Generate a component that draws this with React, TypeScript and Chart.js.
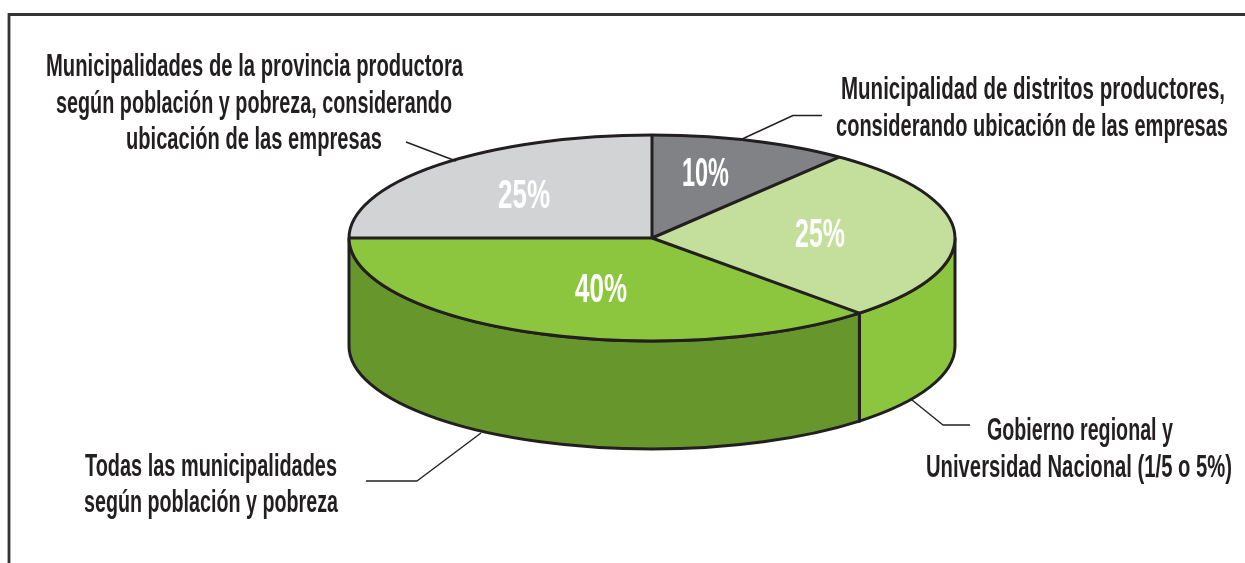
import React, { useEffect, useRef } from "react";
import { Chart, registerables } from "chart.js";

Chart.register(...registerables);

// Slice order runs clockwise from 12 o'clock.
const categories = [
  "Municipalidad de distritos productores, considerando ubicación de las empresas",
  "Gobierno regional y Universidad Nacional (1/5 o 5%)",
  "Todas las municipalidades según población y pobreza",
  "Municipalidades de la provincia productora según población y pobreza, considerando ubicación de las empresas",
];
// Share of the circle as drawn in the picture.
const drawnShares = [10.6, 27.4, 37.0, 25];
// Value printed on each slice.
const printedLabels = ["10%", "25%", "40%", "25%"];
const topColors = ["#808285", "#c4df9b", "#8cc63e", "#d1d3d4"];
const wallColors = ["#5f6062", "#8cc63e", "#66962c", "#a7a9ac"];

const INK = "#231f20";
const CX = 652;
const CY = 238;
const RX = 303;
const RY = 103;
const DEPTH = 108;
const FONT = '"Liberation Sans Narrow", "Liberation Sans", sans-serif';

const captionLayout = [
  { text: "Municipalidades de la provincia productora", l: 46, r: 463, y: 76 },
  { text: "según población y pobreza, considerando", l: 56, r: 452, y: 113 },
  { text: "ubicación de las empresas", l: 126, r: 382, y: 149 },
  { text: "Municipalidad de distritos productores,", l: 841, r: 1225, y: 99 },
  { text: "considerando ubicación de las empresas", l: 836, r: 1228, y: 136 },
  { text: "Gobierno regional y", l: 987, r: 1173, y: 440 },
  { text: "Universidad Nacional (1/5 o 5%)", l: 926, r: 1232, y: 477 },
  { text: "Todas las municipalidades", l: 85, r: 337, y: 476 },
  { text: "según población y pobreza", l: 84, r: 338, y: 512 },
];
const percentLayout = [
  { l: 682, r: 729, y: 186 },
  { l: 795, r: 845, y: 247 },
  { l: 575, r: 627, y: 302 },
  { l: 498, r: 550, y: 208 },
];
const leaderLines = [
  [[406, 142], [456, 161]],
  [[740, 140], [793, 115.5], [822, 115.5]],
  [[912, 400], [943, 425], [970, 425]],
  [[481, 433], [417, 481], [366, 481]],
];

function fitText(ctx: CanvasRenderingContext2D, text: string, l: number, r: number, y: number, font: string, color: string) {
  ctx.save();
  ctx.font = font;
  ctx.fillStyle = color;
  ctx.textAlign = "left";
  ctx.textBaseline = "alphabetic";
  const w = ctx.measureText(text).width;
  ctx.translate(l, y);
  ctx.scale((r - l) / w, 1);
  ctx.fillText(text, 0, 0);
  ctx.restore();
}

const pie3d = {
  id: "pie3d",
  beforeDatasetsDraw(chart: any) {
    const ctx: CanvasRenderingContext2D = chart.ctx;
    const arcs = chart.getDatasetMeta(0).data;
    ctx.save();
    // Frame
    ctx.strokeStyle = "#333333";
    ctx.lineWidth = 2.8;
    ctx.beginPath();
    ctx.moveTo(9, 563);
    ctx.lineTo(9, 14.5);
    ctx.lineTo(1245, 14.5);
    ctx.stroke();
    // Walls
    arcs.forEach((arc: any, i: number) => {
      const a0 = Math.max(arc.startAngle, 0);
      const a1 = Math.min(arc.endAngle, Math.PI);
      if (a1 <= a0) return;
      ctx.beginPath();
      ctx.ellipse(CX, CY, RX, RY, 0, a0, a1);
      ctx.ellipse(CX, CY + DEPTH, RX, RY, 0, a1, a0, true);
      ctx.closePath();
      ctx.fillStyle = wallColors[i];
      ctx.fill();
      ctx.strokeStyle = INK;
      ctx.lineWidth = 3;
      ctx.stroke();
    });
    ctx.restore();
    // Squash the library's round pie into the ellipse of the top face.
    ctx.save();
    const a = arcs[0];
    ctx.translate(CX, CY);
    ctx.scale(RX / a.outerRadius, RY / a.outerRadius);
    ctx.translate(-a.x, -a.y);
  },
  afterDatasetsDraw(chart: any) {
    const ctx: CanvasRenderingContext2D = chart.ctx;
    ctx.restore();
    const arcs = chart.getDatasetMeta(0).data;
    ctx.save();
    ctx.strokeStyle = INK;
    ctx.lineWidth = 3;
    ctx.lineJoin = "round";
    ctx.beginPath();
    ctx.ellipse(CX, CY, RX, RY, 0, 0, Math.PI * 2);
    ctx.stroke();
    arcs.forEach((arc: any) => {
      ctx.beginPath();
      ctx.moveTo(CX, CY);
      ctx.lineTo(CX + RX * Math.cos(arc.startAngle), CY + RY * Math.sin(arc.startAngle));
      ctx.stroke();
    });
    // Leader lines
    ctx.lineWidth = 1.4;
    leaderLines.forEach((pts) => {
      ctx.beginPath();
      pts.forEach(([x, y], i) => (i ? ctx.lineTo(x, y) : ctx.moveTo(x, y)));
      ctx.stroke();
    });
    ctx.restore();
    captionLayout.forEach((c) => fitText(ctx, c.text, c.l, c.r, c.y, `bold 31px ${FONT}`, INK));
    printedLabels.forEach((t, i) => {
      const p = percentLayout[i];
      fitText(ctx, t, p.l, p.r, p.y, `bold 41px ${FONT}`, "#ffffff");
    });
  },
};

export default function App() {
  const ref = useRef<HTMLCanvasElement>(null);
  useEffect(() => {
    const chart = new Chart(ref.current as HTMLCanvasElement, {
      type: "pie",
      data: {
        labels: categories,
        datasets: [{ data: drawnShares, backgroundColor: topColors, borderWidth: 0 }],
      },
      options: {
        animation: false,
        responsive: false,
        layout: { padding: 0 },
        plugins: { legend: { display: false }, tooltip: { enabled: false } },
      },
      plugins: [pie3d],
    });
    return () => chart.destroy();
  }, []);
  return (
    <div style={{ position: "fixed", left: 0, top: 0, width: 1245, height: 563, background: "#ffffff" }}>
      <canvas ref={ref} width={1245} height={563} style={{ display: "block" }} />
    </div>
  );
}
